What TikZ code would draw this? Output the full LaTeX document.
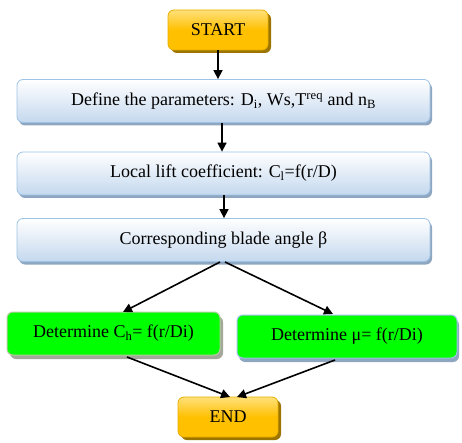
\documentclass[tikz,border=0pt]{standalone}
\usepackage{fontspec}
\setmainfont{Liberation Serif}
\usetikzlibrary{shadows,arrows.meta}
\definecolor{goldA}{HTML}{FFE07A}
\definecolor{goldB}{HTML}{FFC000}
\definecolor{goldE}{HTML}{E8AE00}
\definecolor{goldS}{HTML}{9C7400}
\definecolor{blueA}{HTML}{FFFFFF}
\definecolor{blueB}{HTML}{C4D8EE}
\definecolor{blueE}{HTML}{9DC3E6}
\definecolor{blueS}{HTML}{8FA6C0}
\definecolor{grn}{HTML}{00FF00}
\definecolor{grnE}{HTML}{B5CDA0}
\definecolor{grnS}{HTML}{A3A89A}
\begin{document}
\begin{tikzpicture}[x=1pt,y=-1pt,
  every node/.style={font=\fontsize{18}{20}\selectfont, inner sep=0pt},
  termbox/.style={rectangle, rounded corners=6pt, draw=goldE, line width=0.8pt,
    top color=goldA, bottom color=goldB, middle color=goldB,
    minimum width=100pt, minimum height=40pt,
    drop shadow={shadow xshift=3pt, shadow yshift=-3pt, fill=goldS, opacity=1}},
  stepbox/.style={rectangle, rounded corners=6pt, draw=blueE, line width=0.8pt,
    top color=blueA, bottom color=blueB,
    minimum width=413pt, minimum height=43pt,
    drop shadow={shadow xshift=2pt, shadow yshift=-3pt, fill=blueS, opacity=1}},
  greenL/.style={rectangle, rounded corners=6pt, draw=grnE, line width=1pt, fill=grn,
    minimum width=213pt, minimum height=43pt,
    drop shadow={shadow xshift=3pt, shadow yshift=-4pt, fill=grnS, opacity=1}},
  greenR/.style={rectangle, rounded corners=6pt, draw=blueE, line width=1pt, fill=grn,
    minimum width=220pt, minimum height=43pt,
    drop shadow={shadow xshift=2pt, shadow yshift=-4pt, fill=blueS, opacity=1}},
  conn/.style={line width=1.6pt, -{Triangle[width=9pt,length=9pt]}}
]
\useasboundingbox (0,0) rectangle (462,443);
\node[termbox] (start) at (218,30) {START};
\node[stepbox] (def) at (223.5,101) {Define the parameters: D\textsubscript{i}, Ws,T\textsuperscript{req} and n\textsubscript{B}};
\node[stepbox] (lift) at (223.5,173.5) {Local lift coefficient: C\textsubscript{l}=f(r/D)};
\node[stepbox] (blade) at (223.5,240) {Corresponding blade angle β};
\node[greenL] (ch) at (113.5,333.5) {Determine C\textsubscript{h}= f(r/Di)};
\node[greenR] (mu) at (347,336.5) {Determine μ= f(r/Di)};
\node[termbox] (end) at (228,417) {END};
\coordinate (b1) at (220,262);
\coordinate (b2) at (225,262);
\coordinate (t1) at (123,312);
\coordinate (t2) at (333,314);
\coordinate (c1) at (127,357);
\coordinate (c2) at (335,360);
\coordinate (e1) at (230,397);
\coordinate (e2) at (237,397);
\draw[conn] (start.south) -- (start.south |- def.north);
\draw[conn] (def.south -| 222,0) -- (lift.north -| 222,0);
\draw[conn] (lift.south -| 224,0) -- (blade.north -| 224,0);
\draw[conn] (b1) -- (t1);
\draw[conn] (b2) -- (t2);
\draw[conn] (c1) -- (e1);
\draw[conn] (c2) -- (e2);
\end{tikzpicture}
\end{document}
